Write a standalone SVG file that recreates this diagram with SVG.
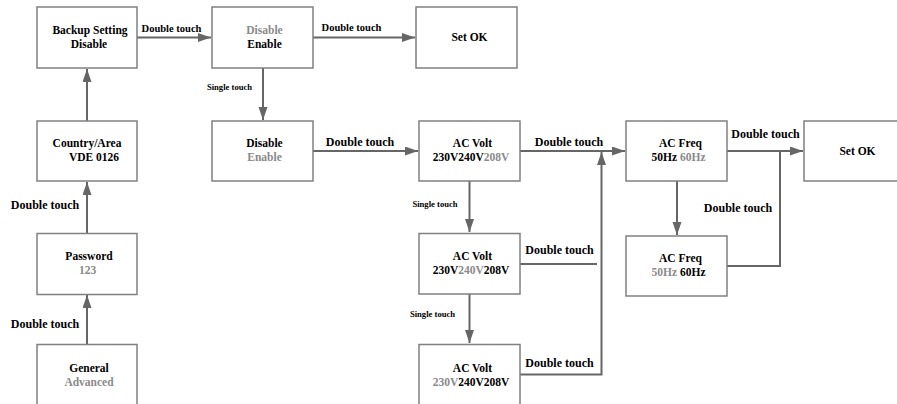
<svg xmlns="http://www.w3.org/2000/svg" width="897" height="404" viewBox="0 0 897 404">
<style>
.box{fill:#fff;stroke:#808080;stroke-width:1.5}
.t{font-family:'Liberation Serif','Times New Roman','DejaVu Serif',serif;font-weight:700;font-size:11.5px;fill:#000;text-anchor:middle}
.g{fill:#8a8a8a}
.lbl{font-family:'Liberation Serif','Times New Roman','DejaVu Serif',serif;font-weight:700;font-size:12px;fill:#000;text-anchor:middle}
.sm{font-size:10.5px}
.xs{font-size:8.6px}
.c{fill:none;stroke:#666;stroke-width:2}
</style>
<defs>
<marker id="ah" markerUnits="userSpaceOnUse" markerWidth="14" markerHeight="10" refX="13" refY="4.5" orient="auto">
<path d="M0,0 L13,4.5 L0,9 z" fill="#666"/>
</marker>
</defs>
<rect width="897" height="404" fill="#fff"/>
<g id="connectors">
<path class="c" d="M137,37.5 H211" marker-end="url(#ah)"/>
<path class="c" d="M313,37.5 H415" marker-end="url(#ah)"/>
<path class="c" d="M263,68 V120" marker-end="url(#ah)"/>
<path class="c" d="M87,121 V69" marker-end="url(#ah)"/>
<path class="c" d="M87,233 V182" marker-end="url(#ah)"/>
<path class="c" d="M87,344 V295" marker-end="url(#ah)"/>
<path class="c" d="M313,151 H418" marker-end="url(#ah)"/>
<path class="c" d="M520,151 H625" marker-end="url(#ah)"/>
<path class="c" d="M469.5,181 V232" marker-end="url(#ah)"/>
<path class="c" d="M469.5,294 V343" marker-end="url(#ah)"/>
<path class="c" d="M520,264 H597"/>
<path class="c" d="M520,374.5 H601.5 V152" marker-end="url(#ah)"/>
<path class="c" d="M727,151 H803" marker-end="url(#ah)"/>
<path class="c" d="M677,181 V235" marker-end="url(#ah)"/>
<path class="c" d="M727,266 H780 V151"/>
</g>
<g id="labels">
<text class="lbl sm" x="171.5" y="32">Double touch</text>
<text class="lbl sm" x="351.5" y="30.5">Double touch</text>
<text class="lbl xs" x="229.5" y="89.5">Single touch</text>
<text class="lbl" x="45" y="209">Double touch</text>
<text class="lbl" x="45" y="327.5">Double touch</text>
<text class="lbl" x="360" y="146">Double touch</text>
<text class="lbl" x="569" y="146">Double touch</text>
<text class="lbl xs" x="435" y="206.5">Single touch</text>
<text class="lbl xs" x="432.5" y="316.5">Single touch</text>
<text class="lbl" x="559.5" y="254">Double touch</text>
<text class="lbl" x="559.5" y="367">Double touch</text>
<text class="lbl" x="765.5" y="138">Double touch</text>
<text class="lbl" x="738" y="211.5">Double touch</text>
</g>
<g id="backup">
<rect class="box" x="37" y="7" width="100" height="61"/>
<text class="t" x="90" y="34">Backup Setting</text>
<text class="t" x="89" y="48">Disable</text>
</g>
<g id="country">
<rect class="box" x="37" y="121" width="100" height="60"/>
<text class="t" x="87" y="147">Country/Area</text>
<text class="t" x="94" y="161">VDE 0126</text>
</g>
<g id="password">
<rect class="box" x="37" y="233.5" width="100" height="61"/>
<text class="t" x="89" y="260">Password</text>
<text class="t g" x="87.5" y="274">123</text>
</g>
<g id="general">
<rect class="box" x="37" y="344.5" width="100" height="65"/>
<text class="t" x="89" y="372">General</text>
<text class="t g" x="89" y="386">Advanced</text>
</g>
<g id="enable1">
<rect class="box" x="212" y="7" width="101" height="61"/>
<text class="t g" x="264.5" y="34">Disable</text>
<text class="t" x="264.5" y="48">Enable</text>
</g>
<g id="setok1">
<rect class="box" x="416" y="7" width="101" height="61"/>
<text class="t" x="469.5" y="41">Set OK</text>
</g>
<g id="enable2">
<rect class="box" x="212" y="121" width="101" height="60"/>
<text class="t" x="264.5" y="147">Disable</text>
<text class="t g" x="264.5" y="161">Enable</text>
</g>
<g id="acvolt1">
<rect class="box" x="419" y="121" width="101" height="60"/>
<text class="t" x="472.5" y="147">AC Volt</text>
<text class="t" x="471" y="161">230V240V<tspan class="g">208V</tspan></text>
</g>
<g id="acvolt2">
<rect class="box" x="419" y="233.5" width="101" height="60.5"/>
<text class="t" x="472.5" y="260">AC Volt</text>
<text class="t" x="471" y="274">230V<tspan class="g">240V</tspan>208V</text>
</g>
<g id="acvolt3">
<rect class="box" x="419" y="344.5" width="101" height="65"/>
<text class="t" x="472.5" y="372">AC Volt</text>
<text class="t" x="471" y="386"><tspan class="g">230V</tspan>240V208V</text>
</g>
<g id="acfreq1">
<rect class="box" x="626" y="121" width="101" height="60"/>
<text class="t" x="680.5" y="147">AC Freq</text>
<text class="t" x="678.5" y="161">50Hz <tspan class="g">60Hz</tspan></text>
</g>
<g id="acfreq2">
<rect class="box" x="626" y="236" width="101" height="60"/>
<text class="t" x="680.5" y="262">AC Freq</text>
<text class="t" x="678.5" y="276"><tspan class="g">50Hz</tspan> 60Hz</text>
</g>
<g id="setok2">
<rect class="box" x="804" y="121" width="100" height="60"/>
<text class="t" x="857.5" y="155">Set OK</text>
</g>
</svg>
